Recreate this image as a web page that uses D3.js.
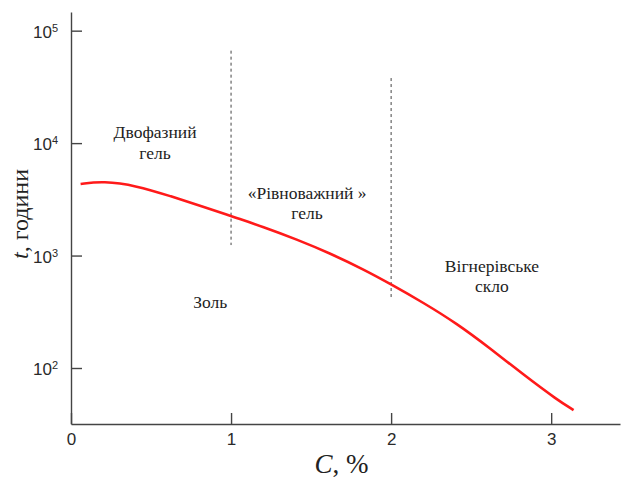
<!DOCTYPE html>
<html>
<head>
<meta charset="utf-8">
<script src="https://cdn.jsdelivr.net/npm/d3@7"></script>
<style>
  body { margin: 0; background: #fff; }
  svg { display: block; }
</style>
</head>
<body>
<svg width="621" height="478"></svg>
<script>
// dati: C (%) e tempo t (ore)
const concValues = [0.06, 0.20, 0.41, 0.62, 0.83, 1.01, 1.20, 1.41, 1.62, 1.83, 2.00, 2.20, 2.41, 2.62, 2.83, 3.04, 3.14];
const timeValues = [4325, 4600, 4180, 3380, 2716, 2215, 1804, 1393, 1046, 750, 555, 382, 249, 149, 86.5, 51.8, 42.2];

const xTicks = [0, 1, 2, 3];
const yTicks = [100, 1000, 10000, 100000];

// linee tratteggiate di confine (C, t inizio, t fine)
const borderC = [1, 2];
const borderTop = [66400, 37900];
const borderBottom = [1240, 419];

// etichette delle regioni
const regionLines = [["Двофазний", "гель"], ["«Рівноважний »", "гель"], ["Вігнерівське", "скло"], ["Золь"]];
const regionC = [0.525, 1.475, 2.63, 0.87];
const regionT = [11100, 3185, 718, 341];

const svg = d3.select("svg");
const width = +svg.attr("width");
const height = +svg.attr("height");

const x = d3.scaleLinear().domain([0, 3.43]).range([71, 620]);
const y = d3.scaleLog().domain([Math.pow(10, 1.502), Math.pow(10, 5.166)]).range([424, 12]);

const axisColor = "#444";
const serif = "'Liberation Serif', 'Times New Roman', serif";

// asse x
const xAxis = svg.append("g")
  .attr("transform", `translate(0, ${y.range()[0]})`)
  .call(d3.axisBottom(x).tickValues(xTicks).tickSizeInner(-11).tickSizeOuter(0).tickPadding(9).tickFormat(d3.format("d")));

// asse y
const yAxis = svg.append("g")
  .attr("transform", `translate(${x(0)}, 0)`)
  .call(d3.axisLeft(y).tickValues(yTicks).tickSizeInner(-11).tickSizeOuter(0).tickPadding(13).tickFormat(() => ""));

yAxis.selectAll(".tick text").each(function(d) {
  const t = d3.select(this);
  t.append("tspan").text("10");
  t.append("tspan")
    .attr("font-size", "11px")
    .attr("dy", "-0.55em")
    .text(Math.round(Math.log10(d)));
});

[xAxis, yAxis].forEach(g => {
  g.select(".domain").attr("stroke", axisColor).attr("stroke-width", 1.4);
  g.selectAll(".tick line").attr("stroke", axisColor).attr("stroke-width", 1.4);
  g.selectAll(".tick text")
    .attr("fill", "#2a2a2a")
    .attr("font-family", "'Liberation Sans', Arial, sans-serif")
    .attr("font-size", "17px");
});
yAxis.selectAll(".tick text").attr("dy", "0.4em");

// linee tratteggiate
svg.selectAll(".border")
  .data(borderC)
  .join("line")
  .attr("class", "border")
  .attr("x1", d => x(d))
  .attr("x2", d => x(d))
  .attr("y1", (d, i) => y(borderTop[i]))
  .attr("y2", (d, i) => y(borderBottom[i]))
  .attr("stroke", "#444")
  .attr("stroke-width", 1)
  .attr("stroke-dasharray", "3,3");

// curva
const points = concValues.map((c, i) => [c, timeValues[i]]);
svg.append("path")
  .datum(points)
  .attr("fill", "none")
  .attr("stroke", "#ff1a1a")
  .attr("stroke-width", 2.6)
  .attr("d", d3.line().x(d => x(d[0])).y(d => y(d[1])).curve(d3.curveBasis));

// etichette regioni
regionLines.forEach((lines, i) => {
  const txt = svg.append("text")
    .attr("x", x(regionC[i]))
    .attr("y", y(regionT[i]))
    .attr("text-anchor", "middle")
    .attr("font-family", serif)
    .attr("font-size", "17.5px")
    .attr("fill", "#222");
  lines.forEach((l, j) => {
    txt.append("tspan")
      .attr("x", x(regionC[i]))
      .attr("dy", j === 0 ? 0 : 20.5)
      .text(l);
  });
});

// titoli assi
const xLabel = svg.append("text")
  .attr("x", 341.5)
  .attr("y", 473)
  .attr("text-anchor", "middle")
  .attr("font-family", serif)
  .attr("font-size", "27px")
  .attr("fill", "#222");
xLabel.append("tspan").attr("font-style", "italic").text("C");
xLabel.append("tspan").text(", %");

const yLabel = svg.append("text")
  .attr("transform", "translate(28, 214) rotate(-90)")
  .attr("text-anchor", "middle")
  .attr("font-family", serif)
  .attr("font-size", "24px")
  .attr("fill", "#222");
yLabel.append("tspan").attr("font-style", "italic").text("t");
yLabel.append("tspan").text(", години");
</script>
</body>
</html>
